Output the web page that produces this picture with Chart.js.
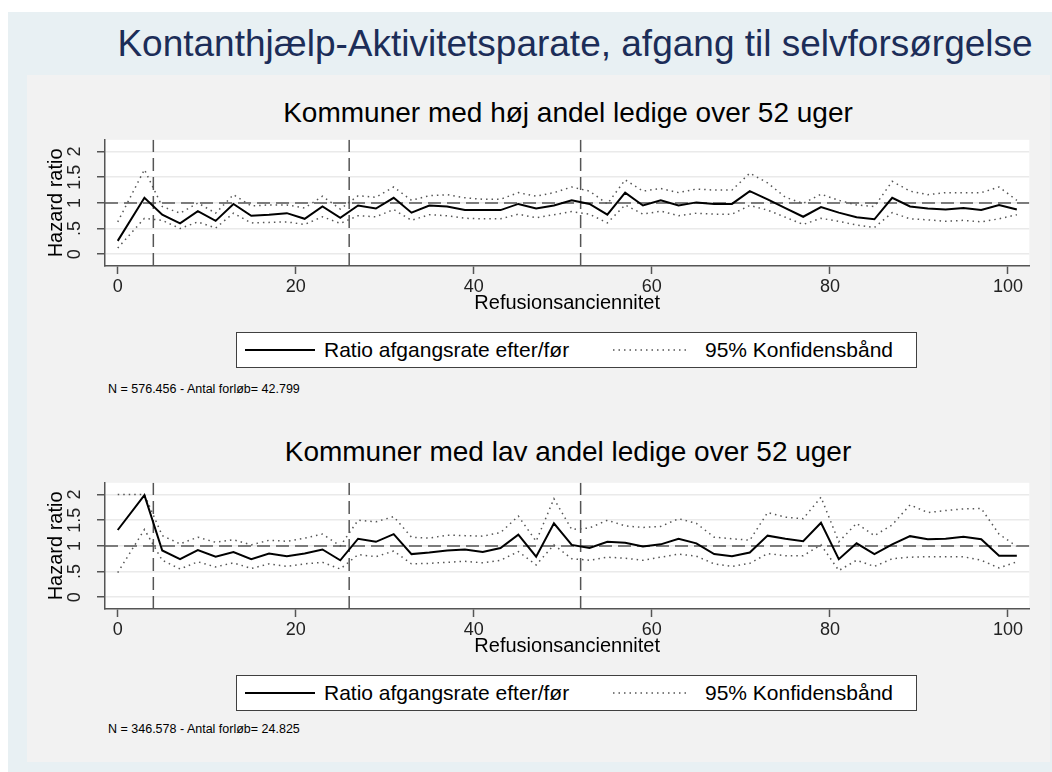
<!DOCTYPE html>
<html lang="da">
<head>
<meta charset="utf-8">
<title>Kontanthjælp-Aktivitetsparate, afgang til selvforsørgelse</title>
<script src="https://cdn.jsdelivr.net/npm/chart.js@4.4.1/dist/chart.umd.min.js"></script>
<style>
  html, body { margin: 0; padding: 0; background: #fff; overflow: hidden; }
  body { width: 1052px; height: 772px; position: relative; font-family: "Liberation Sans", Arial, sans-serif; }
  #ramme { position: absolute; left: 8px; top: 12px; width: 1044px; height: 760px; background: #e8f0f3; }
  #panel { position: absolute; left: 27px; top: 75px; width: 1023px; height: 687px; background: #f2f2f2; }
  .hovedtitel { position: absolute; left: 575px; top: 44px; transform: translate(-50%, -50%); font-size: 37px; color: #1c2d58; white-space: nowrap; }
  .undertitel { position: absolute; left: 568px; transform: translate(-50%, -50%); font-size: 28px; color: #000; white-space: nowrap; }
  canvas { position: absolute; left: 0; }
  .forklaring { position: absolute; left: 236px; width: 679px; height: 34px; border: 1px solid #404040; background: #fff; }
  .forklaring svg { position: absolute; top: 15px; }
  .forklaring span { position: absolute; top: 50%; transform: translateY(-50%); font-size: 21px; color: #000; white-space: nowrap; }
  .note { position: absolute; left: 108px; transform: translateY(-50%); font-size: 12.5px; color: #000; white-space: nowrap; }
</style>
</head>
<body>
<div id="ramme"></div>
<div id="panel"></div>
<div class="hovedtitel">Kontanthjælp-Aktivitetsparate, afgang til selvforsørgelse</div>

<div class="undertitel" style="top:113px">Kommuner med høj andel ledige over 52 uger</div>
<canvas id="grafHoej" width="1052" height="196" style="top:120px"></canvas>
<div class="forklaring" style="top:332px">
  <svg width="70" height="4" style="left:8px"><line x1="0" y1="2" x2="70" y2="2" stroke="#000" stroke-width="2"/></svg>
  <span style="left:87px">Ratio afgangsrate efter/før</span>
  <svg width="76" height="4" style="left:376px"><line x1="0" y1="2" x2="76" y2="2" stroke="#555" stroke-width="1.5" stroke-dasharray="1.5 4"/></svg>
  <span style="left:468px">95% Konfidensbånd</span>
</div>
<div class="note" style="top:389px">N = 576.456 - Antal forløb= 42.799</div>

<div class="undertitel" style="top:452px">Kommuner med lav andel ledige over 52 uger</div>
<canvas id="grafLav" width="1052" height="196" style="top:463px"></canvas>
<div class="forklaring" style="top:675px">
  <svg width="70" height="4" style="left:8px"><line x1="0" y1="2" x2="70" y2="2" stroke="#000" stroke-width="2"/></svg>
  <span style="left:87px">Ratio afgangsrate efter/før</span>
  <svg width="76" height="4" style="left:376px"><line x1="0" y1="2" x2="76" y2="2" stroke="#555" stroke-width="1.5" stroke-dasharray="1.5 4"/></svg>
  <span style="left:468px">95% Konfidensbånd</span>
</div>
<div class="note" style="top:729px">N = 346.578 - Antal forløb= 24.825</div>

<script>
// ---------------------------------------------------------------
// Data: refusionsanciennitet (uger) og hazard ratio med 95% bånd
// ---------------------------------------------------------------
const uger = [0, 3, 5, 7, 9, 11, 13, 15, 17, 19, 21, 23, 25, 27, 29, 31, 33, 35, 37, 39, 41, 43, 45, 47, 49,
              51, 53, 55, 57, 59, 61, 63, 65, 67, 69, 71, 73, 75, 77, 79, 81, 83, 85, 87, 89, 91, 93, 95, 97, 99, 101];

// Kommuner med høj andel ledige over 52 uger
const ratioHoej = [0.26, 1.10, 0.77, 0.60, 0.84, 0.65, 0.98, 0.75, 0.77, 0.80, 0.69, 0.93, 0.71, 0.95, 0.89, 1.10, 0.81,
                   0.95, 0.93, 0.86, 0.86, 0.86, 0.98, 0.89, 0.95, 1.05, 0.98, 0.77, 1.20, 0.95, 1.05, 0.95, 1.01, 0.98,
                   0.98, 1.23, 1.07, 0.90, 0.73, 0.92, 0.81, 0.72, 0.68, 1.10, 0.93, 0.89, 0.87, 0.90, 0.86, 0.96, 0.87];
const oevreHoej = [0.63, 1.65, 0.93, 0.80, 1.00, 0.80, 1.16, 0.94, 0.96, 0.96, 0.90, 1.13, 0.88, 1.14, 1.11, 1.31, 1.05,
                   1.14, 1.16, 1.10, 1.07, 1.07, 1.20, 1.13, 1.20, 1.31, 1.23, 0.98, 1.45, 1.23, 1.28, 1.20, 1.27, 1.25,
                   1.25, 1.58, 1.39, 1.11, 0.99, 1.17, 1.05, 0.96, 0.93, 1.42, 1.23, 1.16, 1.20, 1.20, 1.20, 1.31, 1.05];
const nedreHoej = [0.12, 0.70, 0.66, 0.50, 0.63, 0.51, 0.80, 0.61, 0.62, 0.63, 0.58, 0.73, 0.60, 0.75, 0.73, 0.87, 0.66,
                   0.77, 0.75, 0.70, 0.69, 0.69, 0.78, 0.71, 0.77, 0.83, 0.78, 0.61, 0.96, 0.78, 0.84, 0.75, 0.80, 0.78,
                   0.78, 0.95, 0.86, 0.72, 0.58, 0.70, 0.64, 0.57, 0.52, 0.81, 0.69, 0.67, 0.64, 0.66, 0.63, 0.69, 0.77];

// Kommuner med lav andel ledige over 52 uger
const ratioLav = [1.31, 1.99, 0.91, 0.74, 0.92, 0.79, 0.88, 0.74, 0.85, 0.80, 0.85, 0.93, 0.72, 1.14, 1.08, 1.23, 0.84,
                  0.87, 0.91, 0.93, 0.88, 0.96, 1.22, 0.79, 1.44, 1.02, 0.96, 1.08, 1.06, 0.99, 1.03, 1.14, 1.05, 0.84,
                  0.80, 0.87, 1.20, 1.14, 1.09, 1.45, 0.74, 1.05, 0.84, 1.03, 1.19, 1.13, 1.14, 1.18, 1.13, 0.81, 0.81];
const oevreLav = [2.00, 2.00, 1.20, 1.04, 1.17, 1.07, 1.12, 1.02, 1.11, 1.09, 1.15, 1.23, 1.00, 1.50, 1.47, 1.57, 1.17,
                  1.15, 1.21, 1.20, 1.19, 1.26, 1.58, 1.09, 1.92, 1.32, 1.35, 1.50, 1.39, 1.36, 1.38, 1.53, 1.44, 1.17,
                  1.14, 1.11, 1.65, 1.56, 1.53, 1.95, 1.08, 1.44, 1.20, 1.41, 1.80, 1.65, 1.69, 1.72, 1.73, 1.23, 0.99];
const nedreLav = [0.48, 1.32, 0.72, 0.55, 0.69, 0.59, 0.67, 0.56, 0.65, 0.60, 0.65, 0.68, 0.55, 0.83, 0.79, 0.90, 0.65,
                  0.66, 0.68, 0.70, 0.67, 0.72, 0.89, 0.63, 1.02, 0.75, 0.72, 0.78, 0.76, 0.72, 0.78, 0.84, 0.80, 0.65,
                  0.60, 0.66, 0.85, 0.81, 0.81, 1.02, 0.52, 0.72, 0.60, 0.75, 0.78, 0.79, 0.79, 0.79, 0.72, 0.57, 0.69];

// Akser og referencelinjer
const xTicks = [0, 20, 40, 60, 80, 100];
const yTicks = [0, 0.5, 1, 1.5, 2];
const yTickLabels = ['0', '.5', '1', '1.5', '2'];
const refUger = [4, 26, 52];
const refRatio = 1;
const xMin = -1.43, xMax = 102.4;
const yMin = -0.23, yMax = 2.23;

Chart.defaults.font.family = '"Liberation Sans", Arial, sans-serif';
Chart.defaults.color = '#000';

// hvid baggrund i selve plotområdet
const plotBaggrund = {
    id: 'plotBaggrund',
    beforeDraw(chart) {
        const { ctx, chartArea: a } = chart;
        ctx.save();
        ctx.fillStyle = '#fff';
        ctx.fillRect(a.left, a.top, a.right - a.left, a.bottom - a.top);
        ctx.restore();
    }
};

const punkter = (ys) => uger.map((u, i) => ({ x: u, y: ys[i] }));

function lavGraf(id, ratio, oevre, nedre) {
    const datasets = [
        { data: punkter(ratio), borderColor: '#000', borderWidth: 2, order: 0 },
        { data: punkter(oevre), borderColor: '#555', borderWidth: 1.5, borderDash: [1.5, 4], order: 1 },
        { data: punkter(nedre), borderColor: '#555', borderWidth: 1.5, borderDash: [1.5, 4], order: 1 },
        { data: [{ x: xMin, y: refRatio }, { x: xMax, y: refRatio }], borderColor: '#555', borderWidth: 1.5, borderDash: [13, 6], order: 2 }
    ];
    refUger.forEach(u => {
        datasets.push({ data: [{ x: u, y: yMin }, { x: u, y: yMax }], borderColor: '#555', borderWidth: 1.5, borderDash: [13, 6], order: 2 });
    });
    datasets.forEach(d => { d.pointRadius = 0; d.fill = false; d.tension = 0; });

    return new Chart(document.getElementById(id), {
        type: 'line',
        data: { datasets },
        plugins: [plotBaggrund],
        options: {
            responsive: false,
            animation: false,
            devicePixelRatio: 1,
            layout: { padding: { left: 43, right: 22.7, top: 10, bottom: 0 } },
            plugins: { legend: { display: false }, tooltip: { enabled: false }, title: { display: false } },
            scales: {
                x: {
                    type: 'linear',
                    min: xMin,
                    max: xMax,
                    afterBuildTicks: s => { s.ticks = xTicks.map(v => ({ value: v })); },
                    afterFit: s => { s.height = 50; },
                    ticks: { font: { size: 18 }, color: '#222', padding: 2, maxRotation: 0, autoSkip: false },
                    grid: { drawOnChartArea: false, tickColor: '#555', tickLength: 8, tickWidth: 1.5 },
                    border: { color: '#555', width: 1.5 },
                    title: { display: true, text: 'Refusionsanciennitet', font: { size: 20 }, color: '#000', padding: { top: 0, bottom: 1 } }
                },
                y: {
                    type: 'linear',
                    min: yMin,
                    max: yMax,
                    afterBuildTicks: s => { s.ticks = yTicks.map(v => ({ value: v })); },
                    afterFit: s => { s.width = 62; },
                    ticks: {
                        callback: (v) => yTickLabels[yTicks.indexOf(v)],
                        minRotation: 90, maxRotation: 90, crossAlign: 'center',
                        padding: 9, font: { size: 18 }, color: '#222', autoSkip: false
                    },
                    grid: { color: '#eaeaea', lineWidth: 1.5, tickColor: '#555', tickLength: 8, tickWidth: 1.5 },
                    border: { color: '#555', width: 1.5 },
                    title: { display: true, text: 'Hazard ratio', font: { size: 20 }, color: '#000', padding: { top: 1.5, bottom: 0 } }
                }
            }
        }
    });
}

document.addEventListener('DOMContentLoaded', () => {
    lavGraf('grafHoej', ratioHoej, oevreHoej, nedreHoej);
    lavGraf('grafLav', ratioLav, oevreLav, nedreLav);
});
</script>
</body>
</html>
